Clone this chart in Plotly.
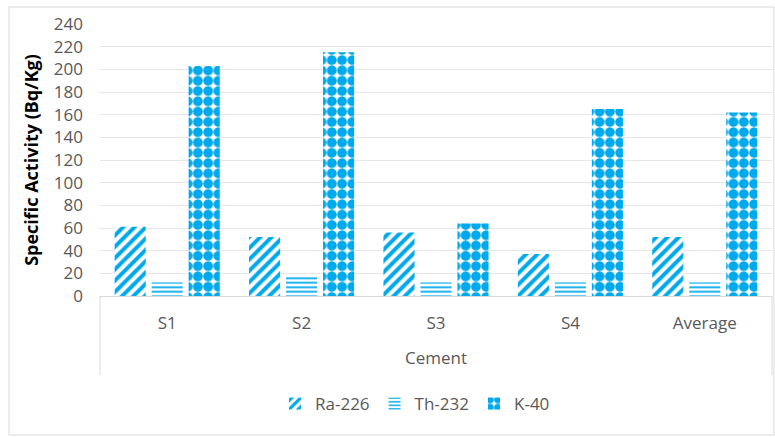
import plotly.graph_objects as go

categories = ["S1", "S2", "S3", "S4", "Average"]
ra226 = [61, 52, 56, 37, 52]
th232 = [12, 17, 12, 12, 12]
k40 = [203, 215, 64, 165, 162]

BLUE = "#00A8EC"
W, H = 775, 437
L, R, T, B = 100, 3, 24, 141
pw, ph = W - L - R, H - T - B

def px(x):
    return (x - L) / pw

def py(y):
    return (H - B - y) / ph

fig = go.Figure()
fig.add_trace(go.Bar(name="Ra-226", x=categories, y=ra226,
                     marker=dict(color="white", line=dict(width=0),
                                 pattern=dict(shape="/", fgcolor=BLUE, bgcolor="white", fgopacity=1,
                                              size=8, solidity=0.5))))
fig.add_trace(go.Bar(name="Th-232", x=categories, y=th232,
                     marker=dict(color="white", line=dict(width=0),
                                 pattern=dict(shape="-", fgcolor=BLUE, bgcolor="white", fgopacity=1,
                                              size=4.5, solidity=0.4))))
fig.add_trace(go.Bar(name="K-40", x=categories, y=k40,
                     marker=dict(color="white", line=dict(width=0),
                                 pattern=dict(shape=".", fgcolor=BLUE, bgcolor="white", fgopacity=1,
                                              size=10.3, solidity=0.72))))

font = "Open Sans, Segoe UI, sans-serif"
fig.update_layout(
    width=W, height=H,
    margin=dict(l=L, r=R, t=T, b=B),
    paper_bgcolor="white", plot_bgcolor="white",
    barmode="group", bargap=0.174, bargroupgap=0.16,
    font=dict(family=font, size=17, color="#595959"),
    showlegend=True,
    legend=dict(orientation="h", x=px(275), xanchor="left", y=py(404), yanchor="middle",
                font=dict(size=17, color="#595959"), tracegroupgap=0),
    xaxis=dict(showline=True, linecolor="#d9d9d9", linewidth=1, ticks="", showgrid=False,
               tickfont=dict(size=17, color="#595959"), ticklabelstandoff=12,
               title=dict(text="Cement", font=dict(size=17, color="#595959"), standoff=18)),
    yaxis=dict(range=[0, 240], dtick=20, showgrid=True, gridcolor="#e6e6e6", gridwidth=1,
               zeroline=False, showline=False, ticks="", ticklabelstandoff=16,
               tickfont=dict(size=17, color="#595959"),
               title=dict(text="<b>Specific Activity (Bq/Kg)</b>", font=dict(size=18, color="#000000"), standoff=10)),
    shapes=[
        dict(type="rect", xref="paper", yref="paper", x0=px(9), x1=px(774), y0=py(435), y1=py(7),
             line=dict(color="#d9d9d9", width=1), layer="below"),
        dict(type="line", xref="paper", yref="paper", x0=0, x1=0, y0=0, y1=py(375),
             line=dict(color="#d9d9d9", width=1)),
        dict(type="line", xref="paper", yref="paper", x0=1, x1=1, y0=0, y1=py(375),
             line=dict(color="#d9d9d9", width=1)),
    ],
)

fig.write_html("out.html", config={"displayModeBar": False},
               post_script="document.body.style.margin='0';document.body.style.overflow='hidden';")
